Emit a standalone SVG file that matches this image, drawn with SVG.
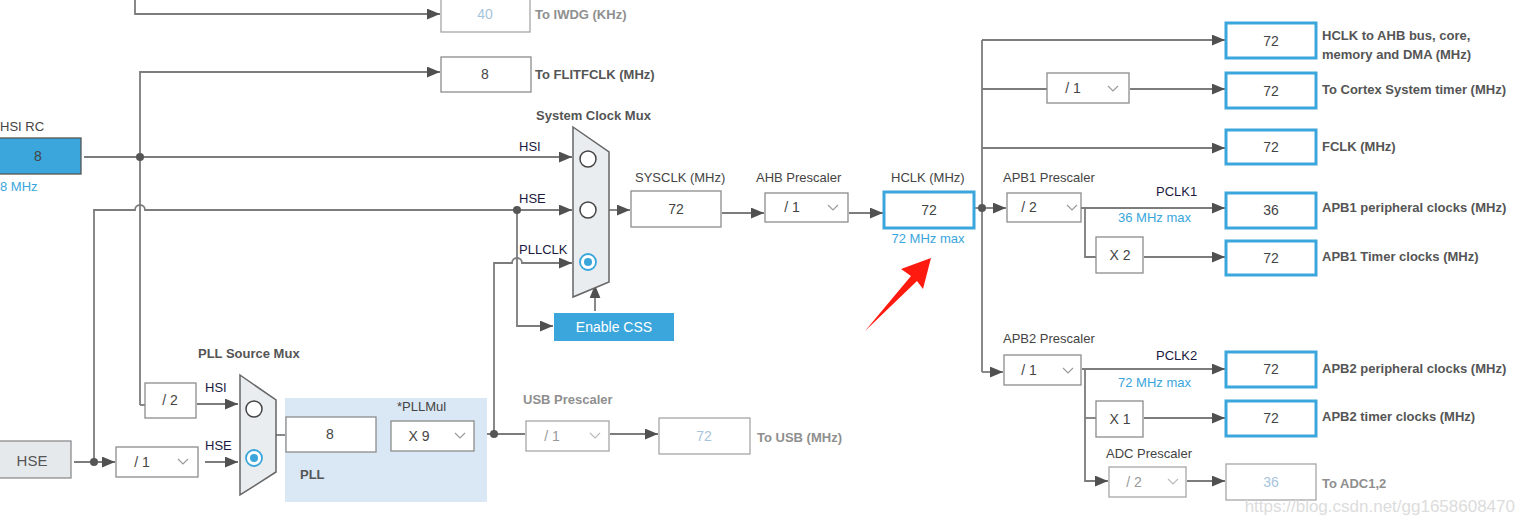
<svg xmlns="http://www.w3.org/2000/svg" width="1525" height="524" viewBox="0 0 1525 524">
<style>
text{font-family:"Liberation Sans",Arial,sans-serif;font-size:13px;fill:#444}
.v{font-size:14px;text-anchor:middle;fill:#444}
.vg{font-size:14px;text-anchor:middle;fill:#a8c4dc}
.b{font-weight:bold;fill:#555}
.bg{font-weight:bold;fill:#8f8f8f}
.n{fill:#1a1a40}
.blue{fill:#3aa6dc}
.box{fill:#fff;stroke:#8c8c8c;stroke-width:1.3}
.gbox{fill:#fff;stroke:#a6a6a6;stroke-width:1.3}
.bbox{fill:#fff;stroke:#3aa6dc;stroke-width:3}
.ln{fill:none;stroke:#7c7c7c;stroke-width:1.8}
.arr{marker-end:url(#ah)}
.chev{fill:none;stroke:#9a9a9a;stroke-width:1.2}
.mux{fill:#e9edf0;stroke:#666;stroke-width:1.5}
.rad{fill:#fff;stroke:#444;stroke-width:1.5}
.dot{fill:#555}
</style>
<defs>
<marker id="ah" viewBox="0 0 12 10" refX="12" refY="5" markerWidth="13" markerHeight="11" markerUnits="userSpaceOnUse" orient="auto">
<path d="M0,0 L12,5 L0,10 z" fill="#505050"/>
</marker>
</defs>

<g id="connectors">
<path class="ln arr" d="M135,0 V14 H440"/>
<path class="ln arr" d="M140,405 V72 H440"/>
<path class="ln" d="M140,405 H145"/>
<path class="ln arr" d="M84,157 H572"/>
<path class="ln arr" d="M94,462 V210 H135 a5,5 0 0 1 10,0 H572"/>
<path class="ln arr" d="M517,210 V326 H553"/>
<path class="ln arr" d="M494,433 V263 H512 a5,5 0 0 1 10,0 H572"/>
<path class="ln arr" d="M595,311 V285"/>
<path class="ln arr" d="M609,210 H630"/>
<path class="ln arr" d="M722,213 H764"/>
<path class="ln arr" d="M849,213 H883"/>
<path class="ln arr" d="M975,208 H1006"/>
<path class="ln" d="M982,40 V372"/>
<path class="ln arr" d="M982,40 H1225"/>
<path class="ln" d="M982,89 H1047"/>
<path class="ln arr" d="M1130,89 H1225"/>
<path class="ln arr" d="M982,148 H1225"/>
<path class="ln arr" d="M982,372 H1003"/>
<path class="ln arr" d="M1081,208 H1225"/>
<path class="ln" d="M1085,208 V257 H1096"/>
<path class="ln arr" d="M1144,257 H1225"/>
<path class="ln arr" d="M1082,369 H1225"/>
<path class="ln arr" d="M1085,369 V481 H1108"/>
<path class="ln" d="M1085,418 H1096"/>
<path class="ln arr" d="M1144,418 H1225"/>
<path class="ln arr" d="M1187,481 H1225"/>
<path class="ln arr" d="M74,462 H115"/>
<path class="ln arr" d="M197,404 H238"/>
<path class="ln arr" d="M205,462 H238"/>
<path class="ln" d="M276,435 H286"/>
<path class="ln" d="M377,435 H391"/>
<path class="ln" d="M475,434 H525"/>
<path class="ln arr" d="M610,434 H658"/>
<circle class="dot" cx="140" cy="157" r="4"/>
<circle class="dot" cx="517" cy="210" r="4"/>
<circle class="dot" cx="94" cy="462" r="4"/>
<circle class="dot" cx="494" cy="434" r="4"/>
<circle class="dot" cx="982" cy="208" r="4"/>
</g>

<g id="iwdg">
<rect class="gbox" x="441" y="-2" width="89" height="34"/>
<text class="vg" x="485" y="19">40</text>
<text class="bg" x="535" y="19">To IWDG (KHz)</text>
</g>
<g id="flitfclk">
<rect class="box" x="441" y="57" width="90" height="35"/>
<text class="v" x="485" y="79">8</text>
<text class="b" x="535" y="79">To FLITFCLK (MHz)</text>
</g>
<g id="hsirc">
<text x="0" y="131" fill="#4a3f5c">HSI RC</text>
<rect x="-2" y="138" width="83" height="36" fill="#3aa6dc" stroke="#555" stroke-width="1.3"/>
<text class="v" x="38" y="161">8</text>
<text class="blue" x="0" y="191">8 MHz</text>
</g>
<g id="sysmux">
<text class="b" x="536" y="120">System Clock Mux</text>
<path class="mux" d="M573,127 L609,152 L609,282 L573,297 Z"/>
<circle class="rad" cx="588" cy="159" r="8"/>
<circle class="rad" cx="588" cy="210" r="8"/>
<circle cx="588" cy="262" r="8" fill="#fff" stroke="#3aa6dc" stroke-width="1.8"/>
<circle cx="588" cy="262" r="4" fill="#3aa6dc"/>
<text class="n" x="519" y="151">HSI</text>
<text class="n" x="519" y="203">HSE</text>
<text class="n" x="519" y="254">PLLCLK</text>
</g>
<g id="css">
<rect x="554" y="313" width="120" height="28" fill="#3aa6dc"/>
<text x="614" y="332" text-anchor="middle" style="fill:#fff;font-size:14px">Enable CSS</text>
</g>
<g id="sysclk">
<text x="635" y="182">SYSCLK (MHz)</text>
<rect class="box" x="631" y="191" width="90" height="36"/>
<text class="v" x="676" y="214">72</text>
</g>
<g id="ahb">
<text x="756" y="182">AHB Prescaler</text>
<rect class="box" x="765" y="193" width="83" height="29"/>
<text class="v" x="792" y="212">/ 1</text>
<polyline class="chev" points="828,205 833,210 838,205"/>
</g>
<g id="hclk">
<text x="891" y="182">HCLK (MHz)</text>
<rect class="bbox" x="884" y="192" width="90" height="36"/>
<text class="v" x="929" y="215">72</text>
<text class="blue" x="928" y="243" text-anchor="middle">72 MHz max</text>
</g>
<g id="redarrow">
<polygon points="865,331 911,276 901,269 931,258 923,289 917,281" fill="#ff1a0f"/>
</g>
<g id="hclkahb">
<rect class="bbox" x="1226" y="23" width="90" height="35"/>
<text class="v" x="1271" y="46">72</text>
<text class="b" x="1322" y="40">HCLK to AHB bus, core,</text>
<text class="b" x="1322" y="59">memory and DMA (MHz)</text>
</g>
<g id="cortex">
<rect class="box" x="1047" y="73" width="82" height="30"/>
<text class="v" x="1073" y="93">/ 1</text>
<polyline class="chev" points="1108,86 1113,91 1118,86"/>
<rect class="bbox" x="1226" y="73" width="90" height="35"/>
<text class="v" x="1271" y="96">72</text>
<text class="b" x="1322" y="94">To Cortex System timer (MHz)</text>
</g>
<g id="fclk">
<rect class="bbox" x="1226" y="130" width="90" height="34"/>
<text class="v" x="1271" y="152">72</text>
<text class="b" x="1322" y="151">FCLK (MHz)</text>
</g>
<g id="apb1">
<text x="1003" y="182">APB1 Prescaler</text>
<rect class="box" x="1007" y="193" width="74" height="29"/>
<text class="v" x="1029" y="212">/ 2</text>
<polyline class="chev" points="1067,205 1072,210 1077,205"/>
<text class="n" x="1156" y="196">PCLK1</text>
<text class="blue" x="1118" y="222">36 MHz max</text>
<rect class="bbox" x="1226" y="193" width="90" height="35"/>
<text class="v" x="1271" y="215">36</text>
<text class="b" x="1322" y="212">APB1 peripheral clocks (MHz)</text>
</g>
<g id="apb1tim">
<rect class="box" x="1096" y="237" width="47" height="36"/>
<text class="v" x="1120" y="260">X 2</text>
<rect class="bbox" x="1226" y="241" width="90" height="34"/>
<text class="v" x="1271" y="263">72</text>
<text class="b" x="1322" y="261">APB1 Timer clocks (MHz)</text>
</g>
<g id="apb2">
<text x="1003" y="343">APB2 Prescaler</text>
<rect class="box" x="1004" y="355" width="77" height="30"/>
<text class="v" x="1029" y="375">/ 1</text>
<polyline class="chev" points="1063,368 1068,373 1073,368"/>
<text class="n" x="1156" y="360">PCLK2</text>
<text class="blue" x="1118" y="387">72 MHz max</text>
<rect class="bbox" x="1226" y="352" width="90" height="35"/>
<text class="v" x="1271" y="374">72</text>
<text class="b" x="1322" y="373">APB2 peripheral clocks (MHz)</text>
</g>
<g id="apb2tim">
<rect class="box" x="1096" y="401" width="47" height="36"/>
<text class="v" x="1120" y="424">X 1</text>
<rect class="bbox" x="1226" y="401" width="90" height="35"/>
<text class="v" x="1271" y="423">72</text>
<text class="b" x="1322" y="421">APB2 timer clocks (MHz)</text>
</g>
<g id="adc">
<text x="1106" y="458">ADC Prescaler</text>
<rect class="gbox" x="1109" y="467" width="77" height="30"/>
<text class="vg" x="1134" y="487" style="fill:#999">/ 2</text>
<polyline class="chev" points="1168,479 1173,484 1178,479" style="stroke:#bbb"/>
<rect class="gbox" x="1226" y="464" width="90" height="36"/>
<text class="vg" x="1271" y="487">36</text>
<text class="bg" x="1322" y="488">To ADC1,2</text>
</g>
<g id="hse">
<rect x="-2" y="441" width="73" height="37" fill="#e6e9ec" stroke="#8c8c8c" stroke-width="1.3"/>
<text class="v" x="32" y="466" style="font-size:15px;fill:#555">HSE</text>
</g>
<g id="hsediv">
<rect class="box" x="116" y="447" width="82" height="30"/>
<text class="v" x="142" y="467">/ 1</text>
<polyline class="chev" points="178,459 183,464 188,459"/>
</g>
<g id="hsidiv">
<rect class="box" x="145" y="383" width="51" height="35"/>
<text class="v" x="170" y="405">/ 2</text>
</g>
<g id="pllmux">
<text class="b" x="198" y="358">PLL Source Mux</text>
<text class="n" x="205" y="392">HSI</text>
<text class="n" x="205" y="450">HSE</text>
<path class="mux" d="M240,375 L276,400 L276,472 L240,495 Z"/>
<circle class="rad" cx="254" cy="409" r="8"/>
<circle cx="254" cy="458" r="8" fill="#fff" stroke="#3aa6dc" stroke-width="1.8"/>
<circle cx="254" cy="458" r="4" fill="#3aa6dc"/>
</g>
<g id="pll">
<rect x="285" y="398" width="202" height="104" fill="#dae7f4"/>
<rect class="box" x="286" y="417" width="90" height="35"/>
<text class="v" x="330" y="439">8</text>
<text x="397" y="411" fill="#333">*PLLMul</text>
<rect class="box" x="391" y="421" width="83" height="30"/>
<text class="v" x="419" y="441">X 9</text>
<polyline class="chev" points="455,433 460,438 465,433"/>
<text class="b" x="300" y="479">PLL</text>
</g>
<g id="usb">
<text class="bg" x="523" y="404">USB Prescaler</text>
<rect class="gbox" x="526" y="421" width="83" height="30"/>
<text class="vg" x="552" y="441" style="fill:#999">/ 1</text>
<polyline class="chev" points="590,433 595,438 600,433" style="stroke:#bbb"/>
<rect class="gbox" x="659" y="418" width="91" height="36"/>
<text class="vg" x="704" y="441">72</text>
<text class="bg" x="757" y="442">To USB (MHz)</text>
</g>
<text x="1515" y="512" text-anchor="end" style="font-size:17px;fill:#dcdcdc">https://blog.csdn.net/gg1658608470</text>
</svg>
